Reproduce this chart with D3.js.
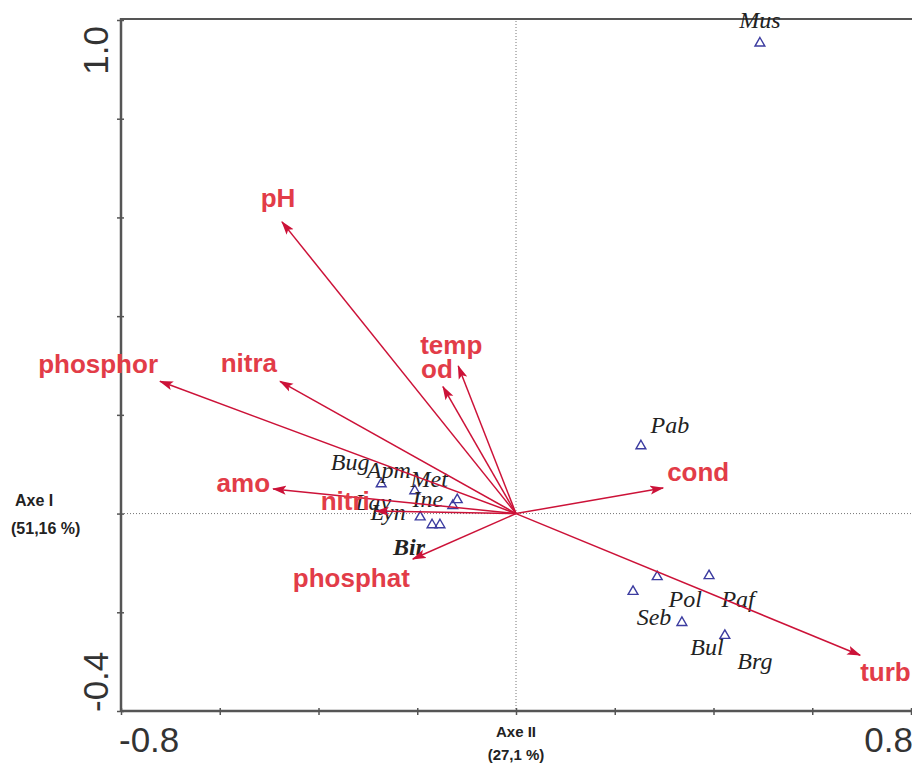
<!DOCTYPE html>
<html>
<head>
<meta charset="utf-8">
<script src="https://cdn.jsdelivr.net/npm/d3@7"></script>
<style>
    body { margin: 0; background: #fff; }
    svg { display: block; }
</style>
</head>
<body>
<div id="chart"></div>
<script>
"use strict";

// environmental variables (arrows): scores on axe II (horizontal) and axe I (vertical)
var variables = ["pH", "phosphor", "nitra", "temp", "od", "amo", "nitri", "phosphat", "cond", "turb"];
var varAxe2 = [-0.474, -0.721, -0.478, -0.117, -0.148, -0.492, -0.284, -0.209, 0.298, 0.697];
var varAxe1 = [0.591, 0.268, 0.268, 0.299, 0.257, 0.050, 0.005, -0.092, 0.052, -0.287];

// sampling sites (triangles)
var sites = ["Mus", "Pab", "Bug", "Apm", "Met", "Ine", "Lay", "Lyn", "Bir", "Pol", "Seb", "Paf", "Bul", "Brg"];
var siteAxe2 = [0.494, 0.253, -0.273, -0.205, -0.119, -0.128, -0.194, -0.170, -0.154, 0.286, 0.237, 0.391, 0.336, 0.423];
var siteAxe1 = [0.953, 0.137, 0.060, 0.046, 0.028, 0.016, -0.007, -0.023, -0.023, -0.128, -0.158, -0.126, -0.221, -0.247];

var xTicks = [-0.8, -0.6, -0.4, -0.2, 0, 0.2, 0.4, 0.6, 0.8];
var yTicks = [-0.4, -0.2, 0, 0.2, 0.4, 0.6, 0.8, 1.0];
var xTickLabels = ["-0.8", "0.8"];
var yTickLabels = ["-0.4", "1.0"];

// label placement relative to arrow tip / triangle (px)
var varLabelPos = {
    "pH":       { dx: -4,  dy: -15, anchor: "middle" },
    "phosphor": { dx: -2,  dy: -8,  anchor: "end" },
    "nitra":    { dx: -3,  dy: -9,  anchor: "end" },
    "temp":     { dx: -7,  dy: -12, anchor: "middle" },
    "od":       { dx: -6,  dy: -9,  anchor: "middle" },
    "amo":      { dx: -3,  dy: 3,   anchor: "end" },
    "nitri":    { dx: -6,  dy: -1,  anchor: "end" },
    "phosphat": { dx: -3,  dy: 28,  anchor: "end" },
    "cond":     { dx: 4,   dy: -7,  anchor: "start" },
    "turb":     { dx: 0,   dy: 26,  anchor: "start" }
};
var siteLabelPos = {
    "Mus": [0, -15], "Pab": [29, -13], "Bug": [-31, -14], "Apm": [-26, -13],
    "Met": [-28, -13], "Ine": [-25, 1], "Lay": [-47, -7], "Lyn": [-44, -5],
    "Bir": [-31, 30], "Pol": [28, 30], "Seb": [21, 33], "Paf": [29, 31],
    "Bul": [25, 32], "Brg": [30, 34]
};

var W = 912, H = 765;
var plot = { left: 121, right: 911, top: 20, bottom: 711 };

var xScale = d3.scaleLinear().domain([-0.8, 0.8]).range([plot.left, plot.right]);
var yScale = d3.scaleLinear().domain([-0.4, 1.0]).range([plot.bottom, plot.top]);

var svg = d3.select("#chart")
    .append("svg")
    .attr("width", W)
    .attr("height", H)
    .style("font-family", "'Liberation Sans', Arial, sans-serif");

svg.append("rect").attr("width", W).attr("height", H).attr("fill", "#fff");

// dotted zero lines
svg.append("line")
    .attr("x1", plot.left).attr("x2", W)
    .attr("y1", yScale(0)).attr("y2", yScale(0))
    .attr("stroke", "#777").attr("stroke-width", 1).attr("stroke-dasharray", "1,2");
svg.append("line")
    .attr("x1", xScale(0)).attr("x2", xScale(0))
    .attr("y1", plot.top - 2).attr("y2", plot.bottom)
    .attr("stroke", "#777").attr("stroke-width", 1).attr("stroke-dasharray", "1,2");

// top frame line
svg.append("line")
    .attr("x1", plot.left).attr("x2", W)
    .attr("y1", plot.top - 1).attr("y2", plot.top - 1)
    .attr("stroke", "#555").attr("stroke-width", 2);

// axes
var xAxis = d3.axisBottom(xScale).tickValues(xTicks).tickFormat("").tickSizeInner(4).tickSizeOuter(0);
var yAxis = d3.axisLeft(yScale).tickValues(yTicks).tickFormat("").tickSizeInner(4).tickSizeOuter(0);

var gx = svg.append("g")
    .attr("transform", "translate(0," + plot.bottom + ")")
    .call(xAxis);
gx.selectAll(".tick line").attr("y1", -3).attr("stroke", "#555").attr("stroke-width", 1.5);
gx.select(".domain").attr("stroke", "#555").attr("stroke-width", 2.5)
    .attr("d", "M" + plot.left + ",0H" + W);

var gy = svg.append("g")
    .attr("transform", "translate(" + plot.left + ",0)")
    .call(yAxis);
gy.selectAll(".tick line").attr("x1", 3).attr("stroke", "#555").attr("stroke-width", 1.5);
gy.select(".domain").attr("stroke", "#555").attr("stroke-width", 2.5)
    .attr("d", "M0," + (plot.top - 2) + "V" + (plot.bottom + 1));

// extreme tick labels
var TICK_FONT = 35;
svg.append("text")
    .attr("x", xScale(-0.8) - 2).attr("y", 752)
    .attr("text-anchor", "start")
    .attr("font-size", TICK_FONT).attr("fill", "#333")
    .text(xTickLabels[0]);
svg.append("text")
    .attr("x", W + 1).attr("y", 752)
    .attr("text-anchor", "end")
    .attr("font-size", TICK_FONT).attr("fill", "#333")
    .text(xTickLabels[1]);
svg.append("text")
    .attr("transform", "translate(108," + (yScale(-0.4) + 1) + ") rotate(-90)")
    .attr("text-anchor", "start")
    .attr("font-size", TICK_FONT).attr("fill", "#333")
    .text(yTickLabels[0]);
svg.append("text")
    .attr("transform", "translate(108," + (yScale(1.0) + 6) + ") rotate(-90)")
    .attr("text-anchor", "end")
    .attr("font-size", TICK_FONT).attr("fill", "#333")
    .text(yTickLabels[1]);

// axis titles
svg.append("text")
    .attr("x", 516).attr("y", 737)
    .attr("text-anchor", "middle")
    .attr("font-size", 15).attr("font-weight", "bold").attr("fill", "#222")
    .text("Axe II");
svg.append("text")
    .attr("x", 516).attr("y", 760)
    .attr("text-anchor", "middle")
    .attr("font-size", 15).attr("font-weight", "bold").attr("fill", "#222")
    .text("(27,1 %)");
svg.append("text")
    .attr("x", 15).attr("y", 506)
    .attr("font-size", 16).attr("font-weight", "bold").attr("fill", "#222")
    .text("Axe I");
svg.append("text")
    .attr("x", 11).attr("y", 534)
    .attr("font-size", 16).attr("font-weight", "bold").attr("fill", "#222")
    .text("(51,16 %)");

// arrow marker
var ARROW = "#cc1238";
svg.append("defs").append("marker")
    .attr("id", "head")
    .attr("viewBox", "0 -5 14 10")
    .attr("refX", 13).attr("refY", 0)
    .attr("markerUnits", "userSpaceOnUse")
    .attr("markerWidth", 14).attr("markerHeight", 10)
    .attr("orient", "auto")
    .append("path")
    .attr("d", "M0,-4.5L14,0L0,4.5L3,0Z")
    .attr("fill", ARROW);

var varData = variables.map(function(name, i) {
    return { name: name, x: varAxe2[i], y: varAxe1[i] };
});
var siteData = sites.map(function(name, i) {
    return { name: name, x: siteAxe2[i], y: siteAxe1[i] };
});

// site triangles
svg.append("g").selectAll("path")
    .data(siteData)
    .enter()
    .append("path")
    .attr("d", d3.symbol().type(d3.symbolTriangle).size(42))
    .attr("transform", function(d) { return "translate(" + xScale(d.x) + "," + yScale(d.y) + ")"; })
    .attr("fill", "none")
    .attr("stroke", "#3c3ca0")
    .attr("stroke-width", 1.4);

// site labels
svg.append("g").selectAll("text")
    .data(siteData)
    .enter()
    .append("text")
    .attr("x", function(d) { return xScale(d.x) + siteLabelPos[d.name][0]; })
    .attr("y", function(d) { return yScale(d.y) + siteLabelPos[d.name][1]; })
    .attr("text-anchor", "middle")
    .attr("font-family", "'Liberation Serif', 'Times New Roman', serif")
    .attr("font-style", "italic")
    .attr("font-weight", function(d) { return d.name === "Bir" ? "bold" : "normal"; })
    .attr("font-size", 24)
    .attr("fill", "#222")
    .text(function(d) { return d.name; });

// arrows
svg.append("g").selectAll("line")
    .data(varData)
    .enter()
    .append("line")
    .attr("x1", xScale(0)).attr("y1", yScale(0))
    .attr("x2", function(d) { return xScale(d.x); })
    .attr("y2", function(d) { return yScale(d.y); })
    .attr("stroke", ARROW)
    .attr("stroke-width", 1.5)
    .attr("marker-end", "url(#head)");

// variable labels
svg.append("g").selectAll("text")
    .data(varData)
    .enter()
    .append("text")
    .attr("x", function(d) { return xScale(d.x) + varLabelPos[d.name].dx; })
    .attr("y", function(d) { return yScale(d.y) + varLabelPos[d.name].dy; })
    .attr("text-anchor", function(d) { return varLabelPos[d.name].anchor; })
    .attr("font-size", 26)
    .attr("font-weight", "bold")
    .attr("fill", "#e23c48")
    .text(function(d) { return d.name; });
</script>
</body>
</html>
